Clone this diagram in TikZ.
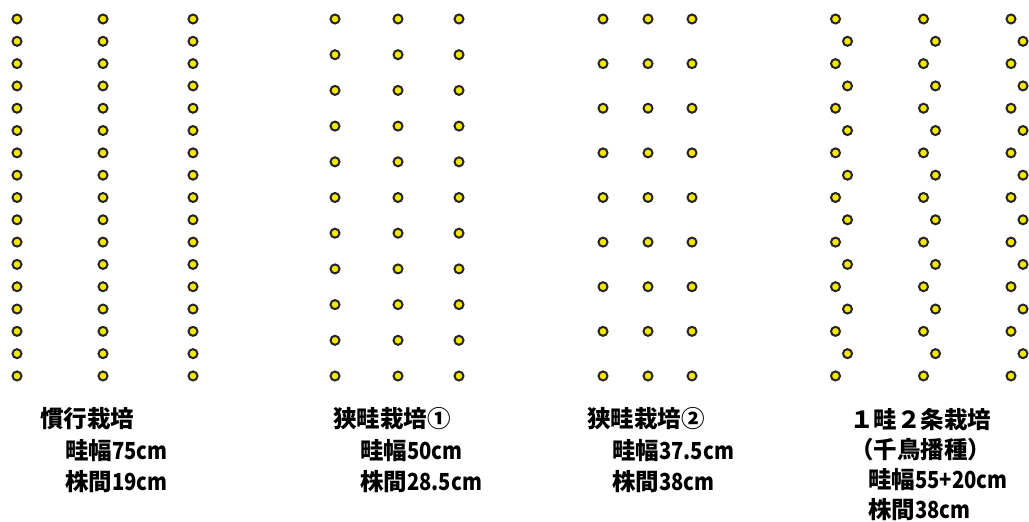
\documentclass[tikz,border=0pt]{standalone}
\usepackage{fontspec}
\newfontfamily\jp{Noto Sans CJK JP}
\newfontfamily\lat[FakeStretch=0.86]{Noto Sans CJK JP}
\newcommand{\latnum}[1]{{\lat\bfseries #1}}
\definecolor{dotyellow}{RGB}{245,232,0}
\tikzset{
  dot/.style={circle,minimum size=9pt,inner sep=0pt,draw=black!85,line width=2pt,fill=dotyellow},
  lbl/.style={anchor=west,inner sep=0pt,font=\jp\bfseries\fontsize{23.5}{23.5}\selectfont}
}
\begin{document}
\begin{tikzpicture}[x=1pt,y=-1pt]
\useasboundingbox (0,0) rectangle (1029,522);
% group 1: 17 rows
\foreach \c/\x in {1/17,2/103,3/193}{
  \foreach \r in {0,...,16}{
    \node[dot] (a-\c-\r) at (\x,{19+\r*22.31}) {};
  }
}
% group 2: 11 rows
\foreach \c/\x in {1/335,2/398,3/459}{
  \foreach \r in {0,...,10}{
    \node[dot] (b-\c-\r) at (\x,{19+\r*35.7}) {};
  }
}
% group 3: 9 rows
\foreach \c/\x in {1/603,2/648,3/692}{
  \foreach \r in {0,...,8}{
    \node[dot] (c-\c-\r) at (\x,{19+\r*44.62}) {};
  }
}
% group 4: zigzag
\foreach \c/\x in {1/835.5,2/923.5,3/1011}{
  \foreach \r in {0,2,...,16}{
    \node[dot] (d-\c-\r) at (\x,{19+\r*22.31}) {};
  }
  \foreach \r in {1,3,...,15}{
    \node[dot] (d-\c-\r) at ({\x+12},{19+\r*22.31}) {};
  }
}
% labels
\node[lbl] (t1a) at (40,419) {慣行栽培};
\node[lbl] (t1b) at (65,451) {畦幅\latnum{75cm}};
\node[lbl] (t1c) at (65,482) {株間\latnum{19cm}};
\node[lbl] (t2a) at (333,419) {狭畦栽培①};
\node[lbl] (t2b) at (360,451) {畦幅\latnum{50cm}};
\node[lbl] (t2c) at (360,482) {株間\latnum{28.5cm}};
\node[lbl] (t3a) at (587,419) {狭畦栽培②};
\node[lbl] (t3b) at (612,451) {畦幅\latnum{37.5cm}};
\node[lbl] (t3c) at (612,482) {株間\latnum{38cm}};
\node[lbl] (t4a) at (850,420) {１畦２条栽培};
\node[lbl] (t4b) at (850,450) {（千鳥播種）};
\node[lbl] (t4c) at (868,480) {畦幅\latnum{55+20cm}};
\node[lbl] (t4d) at (868,510) {株間\latnum{38cm}};
\end{tikzpicture}
\end{document}
